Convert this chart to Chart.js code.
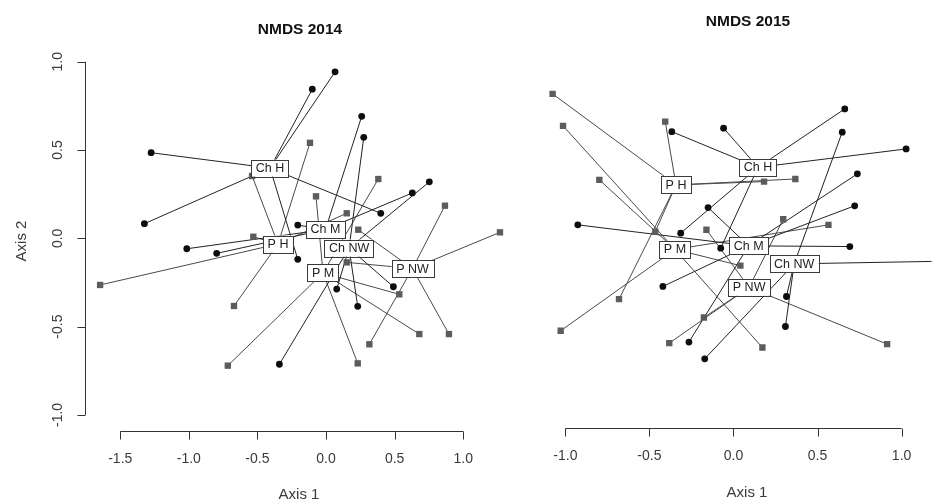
<!DOCTYPE html>
<html>
<head>
<meta charset="utf-8">
<script src="https://cdn.jsdelivr.net/npm/chart.js@4.4.1/dist/chart.umd.min.js"></script>
<style>
  html, body { margin: 0; padding: 0; background: #fff; }
  #wrap { position: relative; width: 936px; height: 502px; overflow: hidden; background: #fff; }
  #c2014 { position: absolute; left: 0; top: 0; }
  #c2015 { position: absolute; left: 535px; top: 0; }
</style>
</head>
<body>
<div id="wrap">
  <canvas id="c2014" width="530" height="502"></canvas>
  <canvas id="c2015" width="401" height="502"></canvas>
</div>
<script>
// ---- NMDS site scores [axis 1, axis 2] ----
// Ch groups are drawn as circles, P groups as squares.

// 2014
const chH2014  = [[-1.275, 0.485], [-1.324, 0.083], [-0.100, 0.845], [0.066, 0.943], [0.399, 0.142], [-0.206, -0.119]];
const chM2014  = [[0.260, 0.691], [0.629, 0.257], [-1.015, -0.059], [-0.797, -0.085], [-0.206, 0.075]];
const chNW2014 = [[0.275, 0.572], [0.753, 0.320], [-0.340, -0.713], [0.078, -0.287], [0.231, -0.385], [0.491, -0.274]];
const pH2014   = [[-0.117, 0.541], [-0.539, 0.353], [0.151, 0.142], [-1.647, -0.264], [-0.530, 0.009], [-0.671, -0.383]];
const pM2014   = [[-0.073, 0.238], [0.381, 0.336], [-0.716, -0.721], [0.231, -0.708], [0.680, -0.542], [0.534, -0.317]];
const pNW2014  = [[0.235, 0.049], [0.867, 0.185], [1.268, 0.034], [0.316, -0.600], [0.896, -0.542], [0.151, -0.136]];

// 2015
const chH2015  = [[-0.367, 0.613], [-0.059, 0.633], [0.662, 0.742], [1.027, 0.515], [-0.314, 0.038], [-0.076, -0.047]];
const chM2015  = [[-0.926, 0.085], [-0.151, 0.183], [0.737, 0.374], [0.721, 0.193], [0.692, -0.038], [-0.420, -0.264], [-0.265, -0.579]];
const chNW2015 = [[0.647, 0.610], [0.315, -0.321], [0.309, -0.491], [-0.171, -0.674], [1.610, -0.115]];
const pH2015   = [[-1.076, 0.827], [-0.406, 0.670], [0.182, 0.330], [0.368, 0.345], [-0.465, 0.047], [-0.681, -0.336]];
const pM2015   = [[-1.014, 0.646], [-0.798, 0.340], [0.565, 0.085], [-1.028, -0.515], [0.172, -0.610], [0.041, -0.146]];
const pNW2015  = [[-0.161, 0.057], [0.296, 0.117], [0.914, -0.591], [-0.382, -0.585], [-0.176, -0.440]];

// Group centroids (label positions)
const groupLabels = ["Ch H", "Ch M", "Ch NW", "P H", "P M", "P NW"];
const centroidX2014 = [-0.408, -0.004, 0.168, -0.350, -0.022, 0.630];
const centroidY2014 = [0.398, 0.050, -0.055, -0.032, -0.196, -0.171];
const centroidX2015 = [0.146, 0.090, 0.361, -0.342, -0.348, 0.093];
const centroidY2015 = [0.411, -0.034, -0.136, 0.311, -0.054, -0.269];

// Axis ticks
const xTicks2014 = [-1.5, -1.0, -0.5, 0.0, 0.5, 1.0];
const yTicks2014 = [-1.0, -0.5, 0.0, 0.5, 1.0];
const xTicks2015 = [-1.0, -0.5, 0.0, 0.5, 1.0];

const FONT = "'Liberation Sans', Arial, Helvetica, sans-serif";
const toXY = p => ({ x: p[0], y: p[1] });

// spider: centroid -> each member site
function spider(cx, cy, sites, color) {
  const data = [];
  sites.forEach(s => { data.push({ x: cx, y: cy }); data.push(toXY(s)); data.push({ x: NaN, y: NaN }); });
  return {
    type: 'scatter', data, showLine: true, spanGaps: false,
    borderColor: color, borderWidth: 1, pointRadius: 0, pointHoverRadius: 0, order: 5
  };
}

function buildDatasets(groupsSites, cx, cy) {
  const ds = [];
  groupsSites.forEach((sites, i) => {
    const isCh = groupLabels[i].startsWith("Ch");
    ds.push(spider(cx[i], cy[i], sites, isCh ? '#222' : '#4a4a4a'));
  });
  const ch = [].concat(groupsSites[0], groupsSites[1], groupsSites[2]).map(toXY);
  const p = [].concat(groupsSites[3], groupsSites[4], groupsSites[5]).map(toXY);
  ds.push({ type: 'scatter', data: ch, pointStyle: 'circle', pointRadius: 3.4,
            backgroundColor: '#0d0d0d', borderColor: '#0d0d0d', borderWidth: 0, order: 1 });
  ds.push({ type: 'scatter', data: p, pointStyle: 'rect', pointRadius: 4.5,
            backgroundColor: '#5c5c5c', borderColor: '#5c5c5c', borderWidth: 0, order: 1 });
  return ds;
}

// R-style decorations: offset axes, titles, centroid label boxes
const rStyle = {
  id: 'rStyle',
  afterDatasetsDraw(chart, args, o) {
    const ctx = chart.ctx, xs = chart.scales.x, ys = chart.scales.y;
    ctx.save();
    // centroid labels
    ctx.font = '12.5px ' + FONT;
    ctx.textAlign = 'center';
    ctx.textBaseline = 'middle';
    o.labels.forEach((lab, i) => {
      const px = xs.getPixelForValue(o.cx[i]), py = ys.getPixelForValue(o.cy[i]);
      const w = ctx.measureText(lab).width + 9, h = 17;
      ctx.fillStyle = '#fff';
      ctx.fillRect(px - w / 2, py - h / 2, w, h);
      ctx.strokeStyle = '#3a3a3a';
      ctx.lineWidth = 1;
      ctx.strokeRect(Math.round(px - w / 2) + 0.5, Math.round(py - h / 2) + 0.5, Math.round(w), h);
      ctx.fillStyle = '#222';
      ctx.fillText(lab, px, py + 0.5);
    });
    ctx.restore();
  },
  afterDraw(chart, args, o) {
    const ctx = chart.ctx, xs = chart.scales.x, ys = chart.scales.y, area = chart.chartArea;
    ctx.save();
    ctx.strokeStyle = '#333';
    ctx.lineWidth = 1;
    ctx.fillStyle = '#3a3a3a';
    // x axis
    const yb = Math.round(area.bottom) + 0.5;
    const x0 = xs.getPixelForValue(o.xTicks[0]), x1 = xs.getPixelForValue(o.xTicks[o.xTicks.length - 1]);
    ctx.beginPath();
    ctx.moveTo(x0, yb); ctx.lineTo(x1, yb);
    o.xTicks.forEach(t => { const px = Math.round(xs.getPixelForValue(t)) + 0.5; ctx.moveTo(px, yb); ctx.lineTo(px, yb + 8); });
    ctx.stroke();
    ctx.font = '14px ' + FONT;
    ctx.textAlign = 'center';
    ctx.textBaseline = 'middle';
    o.xTicks.forEach(t => ctx.fillText(t.toFixed(1), xs.getPixelForValue(t), yb + 28));
    // y axis
    if (o.yTicks) {
      const xl = Math.round(area.left) + 0.5;
      const y0 = ys.getPixelForValue(o.yTicks[0]), y1 = ys.getPixelForValue(o.yTicks[o.yTicks.length - 1]);
      ctx.beginPath();
      ctx.moveTo(xl, y0); ctx.lineTo(xl, y1);
      o.yTicks.forEach(t => { const py = Math.round(ys.getPixelForValue(t)) + 0.5; ctx.moveTo(xl, py); ctx.lineTo(xl - 8, py); });
      ctx.stroke();
      o.yTicks.forEach(t => {
        ctx.save();
        ctx.translate(xl - 27, ys.getPixelForValue(t));
        ctx.rotate(-Math.PI / 2);
        ctx.fillText(t.toFixed(1), 0, 0);
        ctx.restore();
      });
      ctx.save();
      ctx.font = '15px ' + FONT;
      ctx.translate(o.yTitle[0], o.yTitle[1]);
      ctx.rotate(-Math.PI / 2);
      ctx.fillText('Axis 2', 0, 0);
      ctx.restore();
    }
    ctx.font = '15px ' + FONT;
    ctx.fillText('Axis 1', o.xTitle[0], o.xTitle[1]);
    ctx.fillStyle = '#111';
    ctx.font = 'bold 15.5px ' + FONT;
    ctx.fillText(o.title, o.titlePos[0], o.titlePos[1]);
    ctx.restore();
  }
};

function makeChart(id, datasets, xr, yr, pad, deco) {
  return new Chart(document.getElementById(id), {
    type: 'scatter',
    data: { datasets },
    plugins: [rStyle],
    options: {
      responsive: false,
      animation: false,
      devicePixelRatio: 1,
      layout: { padding: pad },
      scales: {
        x: { type: 'linear', min: xr[0], max: xr[1], display: false },
        y: { type: 'linear', min: yr[0], max: yr[1], display: false }
      },
      plugins: { legend: { display: false }, tooltip: { enabled: false }, rStyle: deco }
    }
  });
}

makeChart('c2014',
  buildDatasets([chH2014, chM2014, chNW2014, pH2014, pM2014, pNW2014], centroidX2014, centroidY2014),
  [-1.757, 1.414], [-1.091, 1.095],
  { left: 85, right: 10, top: 45, bottom: 71 },
  { labels: groupLabels, cx: centroidX2014, cy: centroidY2014,
    xTicks: xTicks2014, yTicks: yTicks2014,
    title: 'NMDS 2014', titlePos: [300, 30], xTitle: [299, 495], yTitle: [22, 241] });

makeChart('c2015',
  buildDatasets([chH2015, chM2015, chNW2015, pH2015, pM2015, pNW2015], centroidX2015, centroidY2015),
  [-1.151, 1.178], [-1.066, 1.104],
  { left: 5, right: 0, top: 45, bottom: 74 },
  { labels: groupLabels, cx: centroidX2015, cy: centroidY2015,
    xTicks: xTicks2015, yTicks: null,
    title: 'NMDS 2015', titlePos: [213, 22], xTitle: [212, 493] });
</script>
</body>
</html>
